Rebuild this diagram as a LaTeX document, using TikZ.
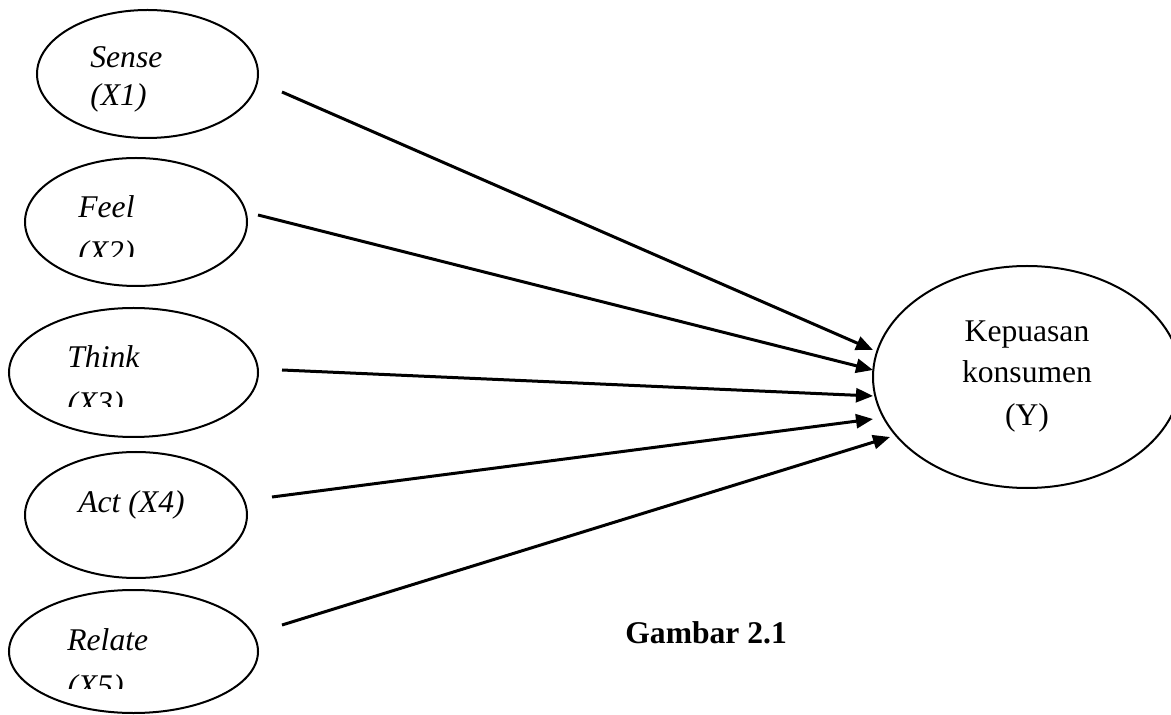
\documentclass[tikz,border=0pt]{standalone}
\usepackage{fontspec}
\setmainfont{Liberation Serif}
\usetikzlibrary{shapes.geometric,arrows.meta}
\begin{document}
\begin{tikzpicture}[x=0.5pt,y=-0.5pt,
  ell/.style={draw,ellipse,line width=1pt,inner sep=0pt},
  lbl/.style={anchor=base west,inner sep=0pt,font=\fontsize{15.8}{19}\selectfont\itshape},
  ylbl/.style={anchor=base,inner sep=0pt,font=\fontsize{15.8}{19}\selectfont},
  conn/.style={line width=1.5pt,-{Triangle[length=8.5pt,width=7pt]}}]
\useasboundingbox (0,0) rectangle (1171,715);
% ellipses
\node[ell,minimum width=110.5pt,minimum height=64pt] (S) at (147.5,74) {};
\node[ell,minimum width=111pt,minimum height=64pt] (F) at (136,222) {};
\node[ell,minimum width=124.5pt,minimum height=64.5pt] (T) at (133.5,372.5) {};
\node[ell,minimum width=111pt,minimum height=63pt] (A) at (136,515) {};
\node[ell,minimum width=124.5pt,minimum height=61.5pt] (R) at (133.5,651.5) {};
\node[ell,minimum width=154pt,minimum height=111pt] (Y) at (1027,377) {};
% labels
\node[lbl] (sense) at (90,68) {Sense};
\node[lbl] (x1) at (90,106) {(X1)};
\node[lbl] (feel) at (78,218) {Feel};
\begin{scope}
\clip (0,0) rectangle (300,257);
\node[lbl] (x2) at (78,263) {(X2)};
\end{scope}
\node[lbl] (think) at (67,368) {Think};
\begin{scope}
\clip (0,300) rectangle (300,407);
\node[lbl] (x3) at (67,414) {(X3)};
\end{scope}
\node[lbl] (act) at (78,512) {Act (X4)};
\node[lbl] (relate) at (67,650) {Relate};
\begin{scope}
\clip (0,600) rectangle (300,688);
\node[lbl] (x5) at (67,696) {(X5)};
\end{scope}
\node[ylbl] (y1) at (1027,342) {Kepuasan};
\node[ylbl] (y2) at (1027,383) {konsumen};
\node[ylbl] (y3) at (1027,426) {(Y)};
\node[anchor=base west,inner sep=0pt,font=\fontsize{15.8}{19}\selectfont\bfseries] (cap) at (625,643) {Gambar 2.1};
% connector ends
\coordinate (s1) at (282,92);
\coordinate (s2) at (258,215);
\coordinate (s3) at (282,370);
\coordinate (s4) at (272,497);
\coordinate (s5) at (282,625);
\coordinate (t1) at (873,350);
\coordinate (t2) at (873,370);
\coordinate (t3) at (873,396);
\coordinate (t4) at (873,419);
\coordinate (t5) at (890,437);
\draw[conn] (s1) -- (t1);
\draw[conn] (s2) -- (t2);
\draw[conn] (s3) -- (t3);
\draw[conn] (s4) -- (t4);
\draw[conn] (s5) -- (t5);
\end{tikzpicture}
\end{document}
